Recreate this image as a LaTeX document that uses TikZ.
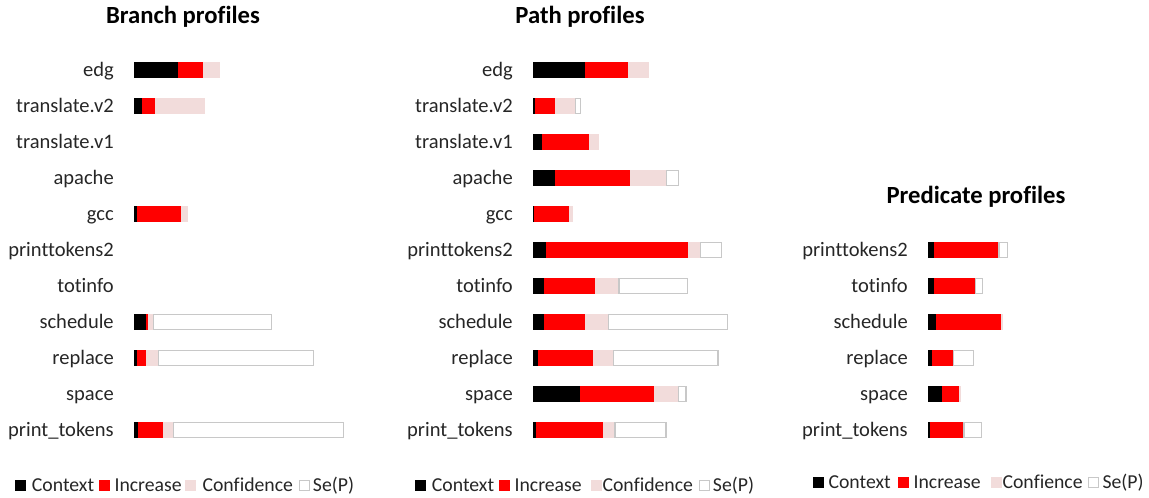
\documentclass[tikz,border=0pt]{standalone}
\usepackage{fontspec}
\setmainfont{Carlito}[Ligatures={NoCommon}]
\usepackage{tikz}
\usetikzlibrary{positioning}
\definecolor{incx}{HTML}{FF0000}
\definecolor{confx}{HTML}{F2DCDB}
\definecolor{sepx}{HTML}{C8C8C8}
\definecolor{txtx}{HTML}{262626}
\tikzset{
  lbl/.style={anchor=base east,inner sep=0pt,text=txtx,font=\fontsize{15.4}{18}\selectfont},
  ttl/.style={anchor=base,inner sep=0pt,font=\fontsize{18.5}{22}\selectfont\bfseries},
  leg/.style={anchor=base west,inner sep=0pt,text=txtx,font=\fontsize{14.8}{18}\selectfont},
  swatch/.style={inner sep=0pt,minimum size=7.5pt,line width=0.6pt}
}
% one bar: row y, left end, then the right ends of context, increase, confidence, Se(P)
\newcommand{\profbar}[6]{%
  \fill[black] (#2,#1-8) rectangle (#3,#1+8);
  \fill[incx] (#3,#1-8) rectangle (#4,#1+8);
  \fill[confx] (#4,#1-8) rectangle (#5,#1+8);
  \ifdim#6pt>#5pt \draw[sepx,fill=white,line width=1pt] (#5+0.7,#1-7.3) rectangle (#6-0.7,#1+7.3);\fi
}

\begin{document}
\begin{tikzpicture}[x=0.75pt,y=-0.75pt]
\useasboundingbox (0,0) rectangle (1149,497);

% titles
\node[ttl] (tbr) at (183,23) {Branch profiles};
\node[ttl] (tpa) at (580,23) {Path profiles};
\node[ttl] (tpr) at (976,203) {Predicate profiles};

% row labels
\foreach \lb [count=\i] in {edg,translate.v2,translate.v1,apache,gcc,printtokens2,totinfo,schedule,replace,space,print\_tokens}{
  \node[lbl] (br\i) at (114,40+36*\i) {\lb};
  \node[lbl] (pa\i) at (513,40+36*\i) {\lb};
}
\foreach \lb [count=\i] in {printtokens2,totinfo,schedule,replace,space,print\_tokens}
  \node[lbl] (pr\i) at (908,220+36*\i) {\lb};

% branch profiles
\foreach \yy/\a/\b/\c/\d in {70/177.7/202.7/220/220, 106/142.3/155.3/205.3/205.3,
    214/137/181.3/188.3/188.3, 322/145.7/148.3/152.7/272.3,
    358/137.3/146/158/314, 430/138/163.3/172.7/344}
  {\profbar{\yy}{134}{\a}{\b}{\c}{\d}}

% path profiles
\foreach \yy/\a/\b/\c/\d in {70/585/628.3/649/649, 106/535/554.7/575/581,
    142/541.7/589/599.3/599.3, 178/554.7/629.7/666/679, 214/533.7/569.3/572.7/572.7,
    250/545.7/688/700/722, 286/544.3/595.3/618.3/688, 322/544.3/585/607.7/728,
    358/537.7/592.7/612.7/718.7, 394/580/653.7/677.7/686.7, 430/536.3/603.3/614.3/666.7}
  {\profbar{\yy}{532.7}{\a}{\b}{\c}{\d}}

% predicate profiles
\foreach \yy/\a/\b/\c/\d in {250/933.7/998.3/998.3/1008, 286/933.7/975/975/983.3,
    322/936.3/1001.3/1003/1003, 358/932.3/953/953/974,
    394/941.7/958.7/960.7/960.7, 430/929.7/963.3/963.3/982}
  {\profbar{\yy}{927.7}{\a}{\b}{\c}{\d}}

% legends
\foreach \fc/\dc/\sx/\tx/\txt [count=\i] in {black/black/20/31.7/Context, incx/incx/104.5/114.3/Increase,
    confx/confx/190/202.3/Confidence, white/sepx/304/312.7/Se(P)}{
  \node[swatch,fill=\fc,draw=\dc] (lb\i) at (\sx,485.5) {};
  \node[leg] (tb\i) at (\tx,491) {\txt};
}
\foreach \fc/\dc/\sx/\tx/\txt [count=\i] in {black/black/420/431.7/Context, incx/incx/504.5/514.3/Increase,
    confx/confx/596/602.3/Confidence, white/sepx/704/712.7/Se(P)}{
  \node[swatch,fill=\fc,draw=\dc] (lp\i) at (\sx,485.5) {};
  \node[leg] (tp\i) at (\tx,491) {\txt};
}
\foreach \fc/\dc/\sx/\tx/\txt [count=\i] in {black/black/818.3/828.3/Context, incx/incx/903.3/913.3/Increase,
    confx/confx/996/1002.3/Confience, white/sepx/1093/1102.3/Se(P)}{
  \node[swatch,fill=\fc,draw=\dc] (lq\i) at (\sx,482.5) {};
  \node[leg] (tq\i) at (\tx,488) {\txt};
}
\end{tikzpicture}
\end{document}
